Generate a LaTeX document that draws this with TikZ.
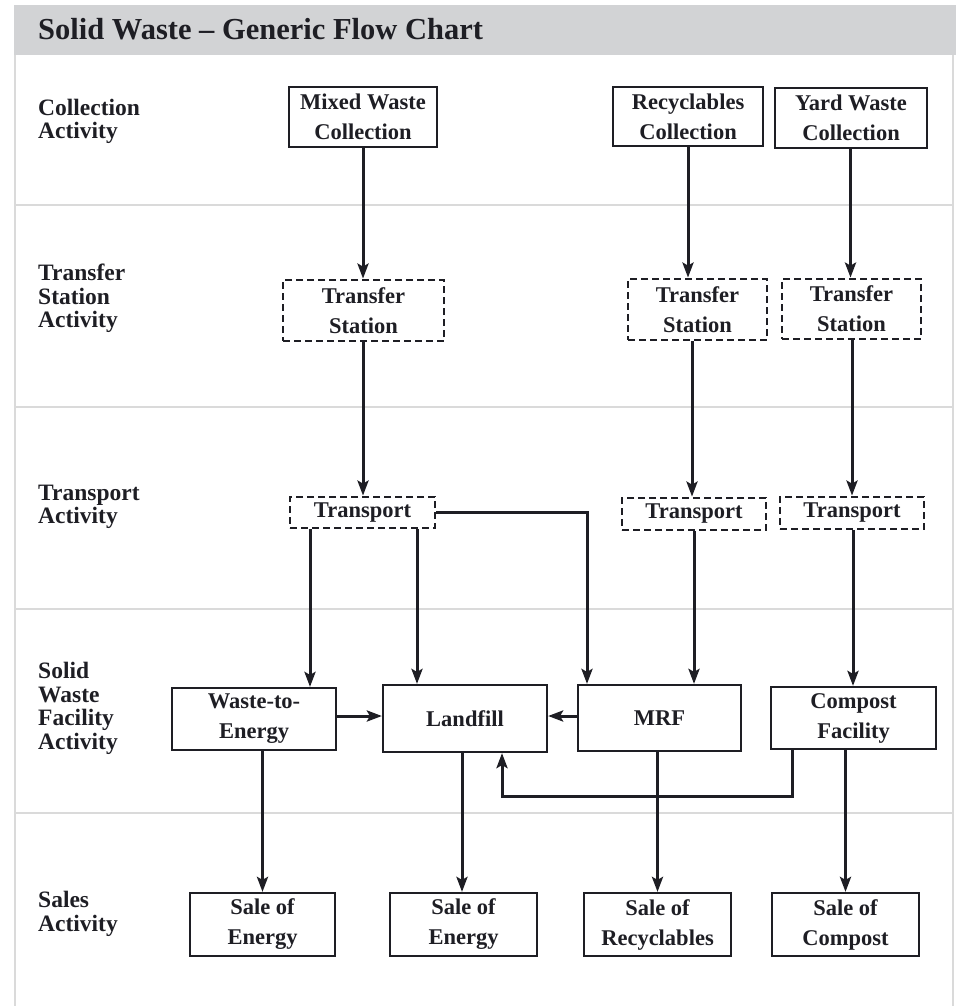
\documentclass[tikz,border=0pt]{standalone}
\usepackage{fontspec}
\setmainfont{Liberation Serif}
\usetikzlibrary{arrows.meta}
\definecolor{headgray}{HTML}{D2D3D5}
\definecolor{framegray}{HTML}{DADADA}
\definecolor{ink}{HTML}{1E1E24}
\tikzset{
  box/.style={draw=ink, line width=2.2pt, inner sep=0pt, align=center, text=ink,
    font=\fontsize{22.5}{30}\selectfont\bfseries},
  dbox/.style={box, line width=2.8pt, dash pattern=on 7pt off 4pt},
  lab/.style={anchor=west, inner sep=0pt, align=left, text=ink,
    font=\fontsize{23.5}{23.5}\selectfont\bfseries},
  arr/.style={draw=ink, line width=3pt, -{Stealth[length=15pt,width=11pt,inset=3pt]}},
  sep/.style={draw=framegray, line width=2pt}
}
\begin{document}
\begin{tikzpicture}[x=1pt,y=-1pt]
\useasboundingbox (0,0) rectangle (959,1006);
% frame
\fill[headgray] (14,5) rectangle (956,55);
\draw[sep] (15,55) -- (15,1006);
\draw[sep] (953,55) -- (953,1006);
\foreach \yy in {205,407,609,813} \draw[sep] (15,\yy) -- (953,\yy);
\node[anchor=west, inner sep=0pt, text=ink, font=\fontsize{30.5}{30.5}\selectfont\bfseries] (title) at (38,29) {Solid Waste -- Generic Flow Chart};
% row labels
\node[lab] (l1) at (38,121.5) {Collection\\Activity};
\node[lab] (l2) at (38,298.5) {Transfer\\Station\\Activity};
\node[lab] (l3) at (38,507) {Transport\\Activity};
\node[lab] (l4) at (38,708.5) {Solid\\Waste\\Facility\\Activity};
\node[lab] (l5) at (38,914) {Sales\\Activity};
% collection
\node[box, minimum width=148pt, minimum height=60pt] (mwc) at (363,117) {Mixed Waste\\Collection};
\node[box, minimum width=150pt, minimum height=59pt] (rc) at (688,116.5) {Recyclables\\Collection};
\node[box, minimum width=152pt, minimum height=60pt] (ywc) at (851,118) {Yard Waste\\Collection};
% transfer stations
\node[dbox, minimum width=161pt, minimum height=61pt] (ts1) at (363.5,310.5) {Transfer\\Station};
\node[dbox, minimum width=139pt, minimum height=61pt] (ts2) at (697.5,309.5) {Transfer\\Station};
\node[dbox, minimum width=139pt, minimum height=60pt] (ts3) at (851.5,309) {Transfer\\Station};
% transport
\node[dbox, minimum width=145pt, minimum height=31pt] (tr1) at (362.5,512.5) {Transport};
\node[dbox, minimum width=144pt, minimum height=32pt] (tr2) at (694,514) {Transport};
\node[dbox, minimum width=144pt, minimum height=32pt] (tr3) at (852,513) {Transport};
% facilities
\node[box, minimum width=164pt, minimum height=62pt] (wte) at (254,719) {Waste-to-\\Energy};
\node[box, minimum width=164pt, minimum height=67pt] (lf) at (465,718.5) {Landfill};
\node[box, minimum width=163pt, minimum height=66pt] (mrf) at (659.5,718) {MRF};
\node[box, minimum width=165pt, minimum height=62pt] (cf) at (853.5,718) {Compost\\Facility};
% sales
\node[box, minimum width=145pt, minimum height=63pt] (s1) at (262.5,924.5) {Sale of\\Energy};
\node[box, minimum width=147pt, minimum height=63pt] (s2) at (463.5,924.5) {Sale of\\Energy};
\node[box, minimum width=147pt, minimum height=63pt] (s3) at (657.5,924.5) {Sale of\\Recyclables};
\node[box, minimum width=147pt, minimum height=63pt] (s4) at (845.5,924.5) {Sale of\\Compost};
% arrows
\draw[arr] (mwc.south) -- (mwc.south |- ts1.north);
\draw[arr] (rc.south) -- (rc.south |- ts2.north);
\draw[arr] ([xshift=-0.5pt]ywc.south) -- ([xshift=-0.5pt]ywc.south |- ts3.north);
\draw[arr] ([xshift=-0.5pt]ts1.south) -- ([xshift=-0.5pt]ts1.south |- tr1.north);
\draw[arr] ([xshift=-5.5pt]ts2.south) -- ([xshift=-5.5pt]ts2.south |- tr2.north);
\draw[arr] ([xshift=0.5pt]ts3.south) -- ([xshift=0.5pt]ts3.south |- tr3.north);
\draw[arr] ([xshift=-52.5pt]tr1.south) -- ([xshift=-52.5pt]tr1.south |- wte.north);
\draw[arr] ([xshift=54.5pt]tr1.south) -- ([xshift=54.5pt]tr1.south |- lf.north);
\draw[arr] (tr1.east) -| ([xshift=-72.5pt]mrf.north);
\draw[arr] (tr2.south) -- (tr2.south |- mrf.north);
\draw[arr] ([xshift=1pt]tr3.south) -- ([xshift=1pt]tr3.south |- cf.north);
\draw[arr] ([yshift=3pt]wte.east) -- ([yshift=3pt]wte.east -| lf.west);
\draw[arr] ([yshift=2pt]mrf.west) -- ([yshift=2pt]mrf.west -| lf.east);
\draw[arr] ([xshift=-61.5pt]cf.south) -- ++(0,46) -| ([xshift=37pt]lf.south);
\draw[arr] (s1.north |- wte.south) -- (s1.north);
\draw[arr] ([xshift=-1.5pt]s2.north |- lf.south) -- ([xshift=-1.5pt]s2.north);
\draw[arr] (s3.north |- mrf.south) -- (s3.north);
\draw[arr] (s4.north |- cf.south) -- (s4.north);
\end{tikzpicture}
\end{document}
